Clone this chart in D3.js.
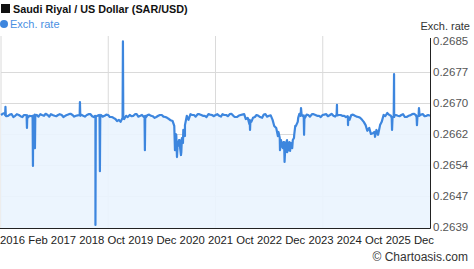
<!DOCTYPE html>
<meta charset="utf-8">
<script src="https://cdn.jsdelivr.net/npm/d3@7"></script>
<style>
body { margin: 0; background: #fff; }
text { font-family: "Liberation Sans", Arial, sans-serif; }
</style>
<body>
<script>
var width = 474,
    height = 269;

// readings on the 1st of each month, Jan 2016 .. Dec 2025
var monthlyRates = [
  .26667, .26672, .26665, .26669, .26665, .26667, .26662, .26667, .26665, .26662, .26667, .26669,
  .26665, .26667, .26669, .26665, .26667, .26667, .26665, .26669, .26667, .26665, .26669, .26665,
  .26667, .26669, .26662, .26665, .26667, .26665, .26667, .26662, .26657, .26655, .26660, .26665,
  .26667, .26665, .26669, .26665, .26662, .26667, .26665, .26660, .26665, .26667, .26662, .26657,
  .26652, .26618, .26605, .26630, .26665, .26669, .26667, .26669, .26667, .26665, .26669, .26667,
  .26667, .26665, .26669, .26667, .26669, .26665, .26662, .26667, .26669, .26660, .26650, .26662,
  .26665, .26660, .26669, .26665, .26655, .26635, .26610, .26600, .26605, .26598, .26618, .26650,
  .26674, .26660, .26667, .26669, .26667, .26665, .26667, .26669, .26667, .26665, .26669, .26667,
  .26665, .26660, .26667, .26665, .26662, .26655, .26642, .26635, .26622, .26630, .26642, .26667,
  .26672, .26665, .26662, .26665, .26667, .26662, .26665, .26669, .26667, .26674, .26669, .26665
];

// readings on the 15th of each month
var midMonthRates = [
  .26670, .26664, .26668, .26662, .26669, .26664, .26667, .26660, .26664, .26668, .26663, .26667,
  .26670, .26663, .26667, .26664, .26669, .26662, .26667, .26670, .26663, .26666, .26668, .26663,
  .26669, .26664, .26660, .26667, .26663, .26668, .26662, .26660, .26652, .26650, .26657, .26662,
  .26664, .26669, .26663, .26667, .26660, .26668, .26664, .26662, .26667, .26663, .26660, .26654,
  .26640, .26590, .26575, .26615, .26655, .26667, .26663, .26669, .26665, .26662, .26668, .26664,
  .26669, .26663, .26667, .26664, .26670, .26662, .26665, .26668, .26657, .26645, .26660, .26667,
  .26662, .26668, .26663, .26666, .26640, .26615, .26590, .26575, .26590, .26585, .26640, .26670,
  .26664, .26668, .26663, .26669, .26665, .26662, .26668, .26664, .26670, .26663, .26667, .26665,
  .26662, .26655, .26668, .26663, .26660, .26650, .26628, .26620, .26625, .26618, .26650, .26664,
  .26668, .26660, .26667, .26664, .26669, .26662, .26666, .26670, .26663, .26668, .26664, .26667
];

// short-lived spikes and dips
var spikes = [
  ["2016-02-05", .26667], ["2016-02-08", .26687], ["2016-02-11", .26665],
  ["2016-08-06", .26665], ["2016-08-09", .26635], ["2016-08-12", .26666],
  ["2016-09-26", .26665], ["2016-09-29", .26541], ["2016-10-03", .26664], ["2016-10-16", .26585], ["2016-10-19", .26665],
  ["2017-10-31", .26667], ["2017-11-03", .26699], ["2017-11-06", .26665],
  ["2018-03-12", .26665], ["2018-03-15", .26395], ["2018-03-18", .26663],
  ["2018-04-19", .26664], ["2018-04-22", .26528], ["2018-04-25", .26662],
  ["2018-11-01", .26660], ["2018-11-04", .26849], ["2018-11-07", .26658],
  ["2019-05-07", .26664], ["2019-05-10", .26580], ["2019-05-13", .26665],
  ["2020-01-21", .26580], ["2020-01-28", .26620], ["2020-02-07", .26563], ["2020-02-14", .26600],
  ["2020-02-24", .26605], ["2020-03-05", .26585], ["2020-03-12", .26568], ["2020-03-20", .26610],
  ["2020-03-29", .26598], ["2020-04-15", .26642],
  ["2021-10-18", .26655], ["2021-10-21", .26630], ["2021-10-24", .26652],
  ["2022-06-20", .26625], ["2022-07-03", .26580], ["2022-07-12", .26605], ["2022-07-20", .26590],
  ["2022-07-29", .26585], ["2022-08-07", .26600], ["2022-08-11", .26551], ["2022-08-20", .26595],
  ["2022-09-01", .26575], ["2022-09-09", .26580], ["2022-09-20", .26600], ["2022-09-27", .26578],
  ["2022-10-05", .26590], ["2022-10-20", .26605], ["2022-10-30", .26610], ["2022-11-10", .26640],
  ["2022-12-05", .26660], ["2022-12-26", .26665], ["2022-12-29", .26684], ["2023-01-03", .26668],
  ["2023-01-21", .26666], ["2023-01-24", .26618], ["2023-01-27", .26662],
  ["2023-10-28", .26668], ["2023-10-31", .26692], ["2023-11-03", .26666],
  ["2024-01-30", .26664], ["2024-02-02", .26642], ["2024-02-05", .26662],
  ["2024-09-19", .26613],
  ["2025-02-08", .26660], ["2025-02-11", .26630], ["2025-02-25", .26665], ["2025-02-28", .26768], ["2025-03-03", .26665],
  ["2025-09-08", .26662], ["2025-09-11", .26642], ["2025-09-25", .26666], ["2025-09-28", .26684], ["2025-10-01", .26665]
];

var yTicks = [0.2639, 0.264667, 0.265433, 0.2662, 0.266967, 0.267733, 0.2685];
var xLabels = ["2016", "Feb", "2017", "2018", "Oct", "2019", "Dec", "2020", "2021", "Oct",
               "2022", "Dec", "2023", "2024", "Oct", "2025", "Dec"];

var parse = d3.utcParse("%Y-%m-%d");
var start = parse("2016-01-01"), end = parse("2025-12-31");
var months = d3.utcMonth.range(start, end);

var data = months.map(function(d, i) { return {date: d, value: monthlyRates[i]}; })
  .concat(months.map(function(d, i) { return {date: d3.utcDay.offset(d, 14), value: midMonthRates[i]}; }))
  .concat(spikes.map(function(s) { return {date: parse(s[0]), value: s[1]}; }));
data.push({date: end, value: monthlyRates[monthlyRates.length - 1]});
data.sort(function(a, b) { return a.date - b.date; });

var x = d3.scaleUtc().domain([start, end]).range([1, 430]);
var y = d3.scaleLinear().domain([0.2639, 0.2685]).range([227, 41]);
var bottom = 228.5;

var svg = d3.select("body").append("svg")
    .attr("width", width)
    .attr("height", height);

// grid
var q = d3.range(4).map(function(i) { return x.range()[0] + i * (x.range()[1] - x.range()[0]) / 4; });
svg.append("g").selectAll("line").data(q).enter().append("line")
    .attr("x1", function(d) { return d; }).attr("x2", function(d) { return d; })
    .attr("y1", 36).attr("y2", bottom)
    .attr("stroke", "#dadada").attr("stroke-width", 1);

svg.append("g").selectAll("line").data(yTicks.slice(1, -1)).enter().append("line")
    .attr("x1", 1).attr("x2", 430)
    .attr("y1", function(d) { return Math.round(y(d)) + 0.5; })
    .attr("y2", function(d) { return Math.round(y(d)) + 0.5; })
    .attr("stroke", "#dadada").attr("stroke-width", 1);

var area = d3.area()
    .x(function(d) { return x(d.date); })
    .y0(bottom)
    .y1(function(d) { return y(d.value); });

var line = d3.line()
    .x(function(d) { return x(d.date); })
    .y(function(d) { return y(d.value); });

svg.append("path").datum(data)
    .attr("d", area)
    .attr("fill", "#eaf4fe")
    .attr("fill-opacity", 0.9);

svg.append("path").datum(data)
    .attr("d", line)
    .attr("fill", "none")
    .attr("stroke", "#3d86de")
    .attr("stroke-width", 2.2)
    .attr("stroke-linejoin", "round");

// axis lines
svg.append("line").attr("x1", 0).attr("x2", 430.5).attr("y1", bottom).attr("y2", bottom)
    .attr("stroke", "#222");
svg.append("line").attr("x1", 430.5).attr("x2", 430.5).attr("y1", 38).attr("y2", bottom)
    .attr("stroke", "#222");

// right y axis
var yAxis = svg.append("g")
    .attr("transform", "translate(430,0)")
    .call(d3.axisRight(y).tickValues(yTicks).tickSize(0).tickPadding(3).tickFormat(d3.format(".4f")));
yAxis.select(".domain").remove();
yAxis.selectAll("text")
    .attr("fill", "#555")
    .style("font-size", "11.5px")
    .style("font-family", "Liberation Sans, Arial, sans-serif");

svg.append("text")
    .attr("x", 470).attr("y", 30)
    .attr("text-anchor", "end")
    .attr("fill", "#333")
    .style("font-size", "11px")
    .text("Exch. rate");

// x labels
svg.append("text")
    .attr("x", 0).attr("y", 244)
    .attr("fill", "#222")
    .style("font-size", "11.3px")
    .text(xLabels.join(" "));

// title + legend
svg.append("rect").attr("x", 1).attr("y", 4).attr("width", 9).attr("height", 9).attr("fill", "#111");
svg.append("text")
    .attr("x", 13).attr("y", 13)
    .attr("fill", "#111")
    .style("font-size", "10.8px")
    .style("font-weight", "bold")
    .text("Saudi Riyal / US Dollar (SAR/USD)");

svg.append("circle").attr("cx", 4).attr("cy", 24).attr("r", 4).attr("fill", "#3d86de");
svg.append("text")
    .attr("x", 10).attr("y", 28)
    .attr("fill", "#4a90e2")
    .style("font-size", "11px")
    .text("Exch. rate");

svg.append("text")
    .attr("x", 468).attr("y", 261)
    .attr("text-anchor", "end")
    .attr("fill", "#333")
    .style("font-size", "12px")
    .text("\u00a9 Chartoasis.com");
</script>
</body>
</html>
